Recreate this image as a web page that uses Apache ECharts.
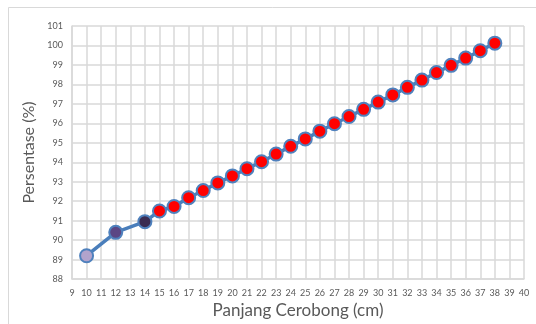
<!DOCTYPE html>
<html>
<head>
<meta charset="utf-8">
<script src="https://cdn.jsdelivr.net/npm/echarts@6/dist/echarts.min.js"></script>
<style>
  html, body { margin: 0; padding: 0; background: #fff; }
  #chart { width: 536px; height: 324px; }
</style>
</head>
<body>
<div id="chart"></div>
<script>
// Chimney length (cm) against efficiency percentage
const lengths = [10, 12, 14, 15, 16, 17, 18, 19, 20, 21, 22, 23, 24, 25, 26, 27, 28, 29, 30, 31, 32, 33, 34, 35, 36, 37, 38];
const percentages = [89.2, 90.4, 90.95, 91.5, 91.73, 92.18, 92.55, 92.94, 93.3, 93.67, 94.03, 94.42, 94.82, 95.2, 95.6, 95.98, 96.35, 96.72, 97.09, 97.46, 97.85, 98.22, 98.61, 98.98, 99.35, 99.73, 100.12];

const xTitle = 'Panjang Cerobong (cm)';
const yTitle = 'Persentase (%)';

// first three measurements use distinct marker fills, the rest are red
const specialFills = ['#b1a3cc', '#5b4684', '#3a2c52'];
const defaultFill = '#ff0000';

const seriesData = lengths.map((x, i) => ({
  value: [x, percentages[i]],
  itemStyle: { color: i < specialFills.length ? specialFills[i] : defaultFill }
}));

const textColor = '#595959';
const gridColor = '#d9d9d9';
const fontFamily = 'Lato, "Open Sans", sans-serif';

const chart = echarts.init(document.getElementById('chart'), null, { renderer: 'canvas' });
chart.setOption({
  animation: false,
  backgroundColor: '#ffffff',
  graphic: [{
    type: 'rect',
    shape: { x: 8.5, y: 7.5, width: 540, height: 330 },
    style: { fill: 'none', stroke: '#d9d9d9', lineWidth: 1 },
    silent: true,
    z: -10
  }],
  grid: { left: 72, right: 12, top: 26, bottom: 41 },
  xAxis: {
    type: 'value',
    min: 9, max: 40, interval: 1,
    name: xTitle,
    nameLocation: 'middle',
    nameGap: 21,
    nameTextStyle: { color: textColor, fontSize: 17, fontFamily },
    axisLine: { show: true, lineStyle: { color: gridColor, width: 1.5 } },
    axisTick: { show: false },
    axisLabel: { color: textColor, fontSize: 9, fontFamily, margin: 9 },
    splitLine: { show: true, lineStyle: { color: gridColor, width: 1.5 } }
  },
  yAxis: {
    type: 'value',
    min: 88, max: 101, interval: 1,
    name: yTitle,
    nameLocation: 'middle',
    nameGap: 27,
    nameTextStyle: { color: textColor, fontSize: 16, fontFamily },
    axisLine: { show: true, lineStyle: { color: gridColor, width: 1.5 } },
    axisTick: { show: false },
    axisLabel: { color: textColor, fontSize: 9, fontFamily, margin: 9 },
    splitLine: { show: true, lineStyle: { color: gridColor, width: 1.5 } }
  },
  series: [{
    type: 'line',
    data: seriesData,
    symbol: 'circle',
    symbolSize: 13,
    lineStyle: { color: '#4a7ebb', width: 3.5 },
    itemStyle: { borderColor: '#4f81bd', borderWidth: 2 }
  }]
});
</script>
</body>
</html>
